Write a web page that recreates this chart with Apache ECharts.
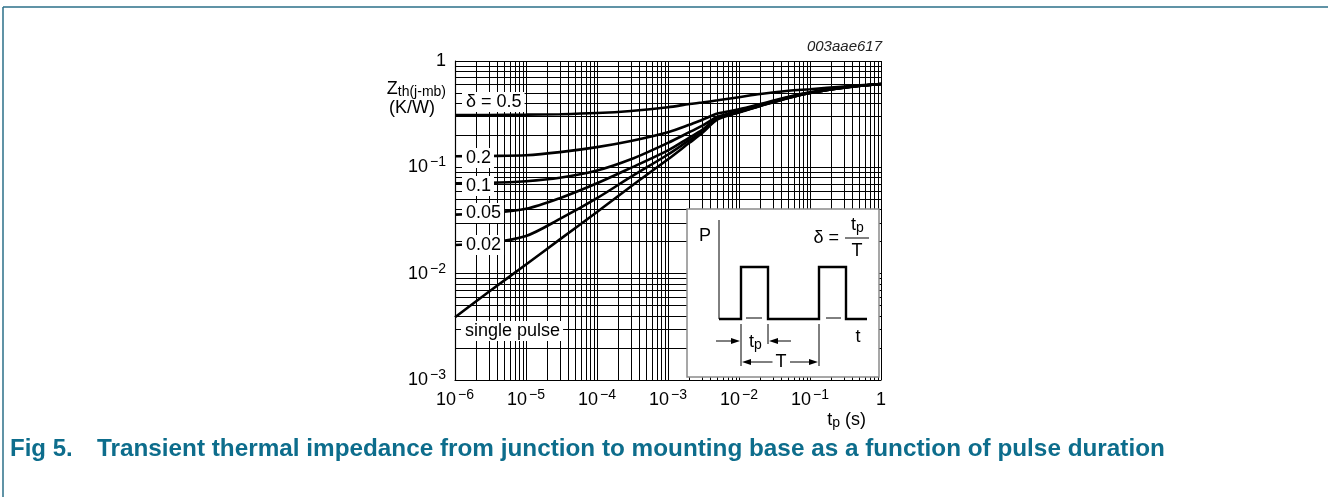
<!DOCTYPE html>
<html><head><meta charset="utf-8">
<script src="https://cdn.jsdelivr.net/npm/echarts@6/dist/echarts.min.js"></script>
<style>html,body{margin:0;padding:0;background:#fff;}#c{width:1328px;height:497px;}</style>
</head><body><div id="c"></div>
<script>
// pulse duration tp (s)
const tp = [1e-6, 3e-6, 1e-5, 3e-5, 1e-4, 3e-4, 1e-3, 2e-3, 3e-3, 5e-3, 1e-2, 2e-2, 5e-2, 1e-1, 3e-1, 1];
// Zth(j-mb) in K/W for each duty cycle
const zD050 = [0.310, 0.311, 0.313, 0.316, 0.324, 0.339, 0.367, 0.394, 0.407, 0.427, 0.457, 0.490, 0.525, 0.543, 0.575, 0.608];
const zD020 = [0.127, 0.128, 0.130, 0.139, 0.155, 0.177, 0.214, 0.251, 0.279, 0.320, 0.351, 0.394, 0.462, 0.507, 0.566, 0.608];
const zD010 = [0.0708, 0.0714, 0.0741, 0.0798, 0.0933, 0.119, 0.170, 0.214, 0.245, 0.299, 0.339, 0.385, 0.457, 0.504, 0.565, 0.608];
const zD005 = [0.0359, 0.0372, 0.0407, 0.0513, 0.0708, 0.0989, 0.1445, 0.1905, 0.224, 0.292, 0.331, 0.380, 0.452, 0.501, 0.562, 0.608];
const zD002 = [0.0186, 0.0194, 0.0226, 0.0327, 0.0513, 0.0813, 0.132, 0.180, 0.214, 0.288, 0.331, 0.380, 0.452, 0.501, 0.562, 0.608];
const zSingle = [0.00389, 0.00676, 0.0122, 0.0210, 0.0380, 0.0661, 0.119, 0.170, 0.209, 0.282, 0.328, 0.378, 0.450, 0.500, 0.562, 0.608];
const seriesNames = ['δ = 0.5', '0.2', '0.1', '0.05', '0.02', 'single pulse'];
const seriesValues = [zD050, zD020, zD010, zD005, zD002, zSingle];
// tick labels (decade exponents)
const xTickExp = ['−6', '−5', '−4', '−3', '−2', '−1', ''];
const yTickExp = ['−3', '−2', '−1', ''];

const FONT = '"Liberation Sans", Arial, sans-serif';
const chart = echarts.init(document.getElementById('c'), null, {renderer: 'canvas'});

function expLabel(v, list, offset) {
  const e = Math.round(Math.log10(v));
  const s = list[e + offset];
  if (s === undefined) return '';
  return s === '' ? '{b|1}' : '{b|10}{s|' + s + '}';
}
const richTick = {
  b: {fontSize: 18, lineHeight: 24, fontFamily: FONT, color: '#000'},
  s: {fontSize: 14, lineHeight: 14, verticalAlign: 'top', padding: [0, 0, 0, 2], fontFamily: FONT, color: '#000'}
};

// minor log grid lines (2..9 within each decade)
const X_MIN = 1e-6, X_MAX = 1, Y_MIN = 1e-3, Y_MAX = 1;
const gridLines = [];
for (let d = -6; d < 0; d++) for (let k = 2; k <= 9; k++) {
  const v = k * Math.pow(10, d);
  gridLines.push({coords: [[v, Y_MIN], [v, Y_MAX]]});
}
for (let d = -3; d < 0; d++) for (let k = 2; k <= 9; k++) {
  const v = k * Math.pow(10, d);
  gridLines.push({coords: [[X_MIN, v], [X_MAX, v]]});
}

const series = seriesValues.map((vals, i) => ({
  name: seriesNames[i],
  type: 'line',
  data: tp.map((t, j) => [t, vals[j]]),
  smooth: 0.3,
  symbol: 'none',
  silent: true,
  z: 3,
  lineStyle: {color: '#000', width: 2.6}
}));
series.unshift({
  type: 'lines', coordinateSystem: 'cartesian2d', z: 1, silent: true,
  lineStyle: {color: '#000', width: 1, opacity: 1},
  data: gridLines
});

function txt(x, y, text, opts) {
  return {type: 'text', z: 60, style: Object.assign({x: x, y: y, text: text, fill: '#000', font: '17px ' + FONT, textAlign: 'left', textVerticalAlign: 'middle'}, opts || {})};
}
function ln(x1, y1, x2, y2, w, c) {
  return {type: 'line', z: 60, shape: {x1: x1, y1: y1, x2: x2, y2: y2}, style: {stroke: c || '#000', lineWidth: w || 1}};
}
function arrow(x1, x2, y) {
  const dir = x2 > x1 ? 1 : -1;
  return [ln(x1, y, x2 - dir * 6, y, 1),
    {type: 'polygon', z: 60, shape: {points: [[x2, y], [x2 - dir * 9, y - 3], [x2 - dir * 9, y + 3]]}, style: {fill: '#000'}}];
}
const subRich = {
  z: {fontSize: 18, lineHeight: 20, fontFamily: FONT, fill: '#000'},
  s: {fontSize: 14, lineHeight: 14, verticalAlign: 'bottom', fontFamily: FONT, fill: '#000'}
};
const labelBox = (x, y, t) => txt(x, y, t, {font: '18px ' + FONT, backgroundColor: '#fff', padding: [1, 3, 1, 4]});

const graphics = [
  // outer frame
  ln(3, 7, 1328, 7, 1.5, '#2b6f88'),
  ln(3, 7, 3, 497, 1.5, '#2b6f88'),
  // code
  txt(882, 47, '003aae617', {font: 'italic 15px ' + FONT, textAlign: 'right', fill: '#222'}),
  // y axis title
  txt(446, 89, '{z|Z}{s|th(j-mb)}', {textAlign: 'right', rich: subRich}),
  txt(412, 108, '(K/W)', {textAlign: 'center', font: '18px ' + FONT}),
  // x axis title
  txt(866, 420, '{z|t}{s|p}{z| (s)}', {textAlign: 'right', rich: subRich}),
  // curve labels
  labelBox(462, 102, 'δ = 0.5'),
  labelBox(462, 158, '0.2'),
  labelBox(462, 186, '0.1'),
  labelBox(462, 213, '0.05'),
  labelBox(462, 245, '0.02'),
  labelBox(461, 331, 'single pulse'),
  // inset
  {type: 'rect', z: 55, shape: {x: 687, y: 209, width: 192, height: 168}, style: {fill: '#fff', stroke: '#8a8a8a', lineWidth: 1.5}},
  ln(719, 220, 719, 319, 1),
  {type: 'polyline', z: 60, shape: {points: [[719, 319], [741, 319], [741, 267], [768, 267], [768, 319], [819, 319], [819, 267], [846, 267], [846, 319], [867, 319]]}, style: {stroke: '#000', lineWidth: 2.4, fill: null}},
  ln(746, 318, 762, 318, 1),
  ln(826, 318, 841, 318, 1),
  ln(741, 324, 741, 366, 1),
  ln(768, 324, 768, 344, 1),
  ln(819, 324, 819, 366, 1),
  ...arrow(716, 740, 341),
  ...arrow(791, 769, 341),
  ...arrow(773, 742, 362),
  ...arrow(790, 818, 362),
  txt(705, 236, 'P', {textAlign: 'center', font: '18px ' + FONT}),
  txt(749, 342, '{z|t}{s|p}', {rich: subRich}),
  txt(781, 362, 'T', {textAlign: 'center', backgroundColor: '#fff', padding: [0, 3], font: '18px ' + FONT}),
  txt(858, 337, 't', {textAlign: 'center', font: '18px ' + FONT}),
  txt(839, 238, 'δ =', {textAlign: 'right', font: '18px ' + FONT}),
  ln(845, 238, 869, 238, 1),
  txt(851, 225, '{z|t}{s|p}', {rich: subRich}),
  txt(857, 251, 'T', {textAlign: 'center', font: '18px ' + FONT}),
  // caption
  txt(10, 449, 'Fig 5.', {font: 'bold 24px ' + FONT, fill: '#0d6d8c'}),
  txt(97, 449, 'Transient thermal impedance from junction to mounting base as a function of pulse duration', {font: 'bold 24.3px ' + FONT, fill: '#0d6d8c'})
];

chart.setOption({
  animation: false,
  backgroundColor: '#fff',
  grid: {left: 455, top: 61, width: 426, height: 319, containLabel: false},
  xAxis: {
    type: 'log', logBase: 10, min: X_MIN, max: X_MAX, splitNumber: 6,
    axisLine: {show: true, lineStyle: {color: '#000', width: 1.2}},
    axisTick: {show: false},
    splitLine: {show: true, lineStyle: {color: '#000', width: 1}},
    axisLabel: {margin: 8, formatter: v => expLabel(v, xTickExp, 6), rich: richTick}
  },
  yAxis: {
    type: 'log', logBase: 10, min: Y_MIN, max: Y_MAX, splitNumber: 3,
    axisLine: {show: true, lineStyle: {color: '#000', width: 1.2}},
    axisTick: {show: false},
    splitLine: {show: true, lineStyle: {color: '#000', width: 1}},
    axisLabel: {margin: 9, formatter: v => expLabel(v, yTickExp, 3), rich: richTick}
  },
  series: series,
  graphic: graphics
});
</script></body></html>
